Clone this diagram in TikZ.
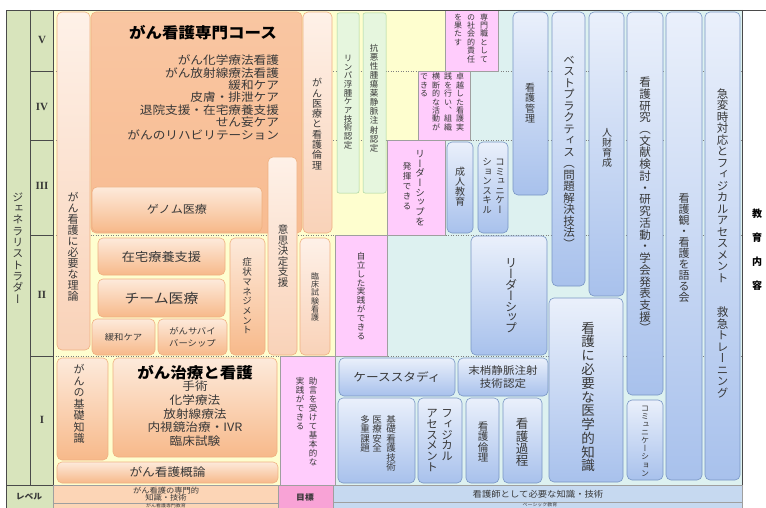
\documentclass[tikz,border=0pt]{standalone}
\usepackage{fontspec}
\setmainfont{Noto Sans CJK JP}[FakeStretch=1.1]
\newfontfamily\vf{Noto Sans CJK JP}[RawFeature=+vert]
\newfontfamily\rmn{Liberation Serif}
\newcommand\fs[1]{\fontsize{#1}{#1}\selectfont}
\ExplSyntaxOn
\NewDocumentCommand\vt{O{1}m}
 {
  \vtop
   {
    \baselineskip=#1em\relax
    \lineskiplimit=-\maxdimen
    \lineskip=0pt
    \tl_map_inline:nn {#2} { \hbox_to_wd:nn {1em} { \hss ##1 \hss } }
   }
 }
\ExplSyntaxOff
\definecolor{lvgreen}{HTML}{D8E4BC}
\definecolor{lgrid}{HTML}{4A4A4A}
\definecolor{cream}{HTML}{FEFECF}
\definecolor{cyanbg}{HTML}{DDF1F0}
\definecolor{pinkbg}{HTML}{FFCCFC}
\definecolor{txt}{HTML}{383838}
\definecolor{otop}{HTML}{FDEADB}
\definecolor{obot}{HTML}{F7B98A}
\definecolor{oedge}{HTML}{EFB080}
\definecolor{ltop}{HTML}{FEF1E8}
\definecolor{lbot}{HTML}{F9D2B8}
\definecolor{bigtop}{HTML}{F9C6A2}
\definecolor{bigbot}{HTML}{F8BC92}
\definecolor{btop}{HTML}{EAF0FB}
\definecolor{bbot}{HTML}{A8C1EC}
\definecolor{bedge}{HTML}{7895C4}
\definecolor{gfill}{HTML}{E6F6DE}
\definecolor{gedge}{HTML}{A6D49C}
\definecolor{rowor}{HTML}{FCD5B6}
\definecolor{rowpk}{HTML}{F8A3D6}
\definecolor{rowbl}{HTML}{C6D9F0}
\tikzset{
 tx/.style={inner sep=0pt,outer sep=0pt,text=txt},
 obox/.style={draw=oedge,line width=0.6pt,rounded corners=5pt,top color=otop,bottom color=obot,inner sep=0pt,outer sep=0pt,text=txt},
 lbox/.style={obox,top color=ltop,bottom color=lbot},
 bigbox/.style={obox,top color=bigtop,bottom color=bigbot},
 bbox/.style={draw=bedge,line width=0.6pt,rounded corners=5pt,top color=btop,bottom color=bbot,inner sep=0pt,outer sep=0pt,text=txt},
 gbox/.style={draw=gedge,line width=0.5pt,rounded corners=2pt,fill=gfill,inner sep=0pt,outer sep=0pt},
 cell/.style={draw=gray!75,line width=0.4pt},
 lvl/.style={dotted,gray,line width=0.5pt},
 grid/.style={draw=lgrid,line width=0.6pt},
}
\newcommand\bx[8][]{\node[#2,minimum width={#6-#4},minimum height={#7-#5},#1] (#3) at ({(#4+#6)/2},{(#5+#7)/2}) {#8};}
\begin{document}
\begin{tikzpicture}[x=1pt,y=-1pt]
\useasboundingbox (0,0) rectangle (766,508);
\fill[white] (0,0) rectangle (766,508);
% backgrounds
\fill[cream] (53,10) rectangle (742,485);
\fill[cyanbg] (498,10) -- (742,10) -- (742,485) -- (335,485) -- (335,356) -- (387,356) -- (387,235) -- (445,235) -- (445,140) -- (470,140) -- (470,71) -- (498,71) -- cycle;
\foreach \yy in {71,140,235,356} \draw[lvl] (53,\yy) -- (742,\yy);
\fill[pinkbg,cell] (280,356) rectangle (335,485);
\fill[pinkbg,cell] (335,235) rectangle (387,356);
\fill[pinkbg,cell] (387,140) rectangle (445,235);
\fill[pinkbg,cell] (418,71) rectangle (470,140);
\fill[pinkbg,cell] (445,10) rectangle (498,71);
% left ladder column
\fill[lvgreen,grid] (6,10) rectangle (53,485);
\draw[grid] (30,10) -- (30,485);
\foreach \yy in {71,140,235,356} \draw[grid] (30,\yy) -- (53,\yy);
\draw[grid] (6,10) -- (766,10);
\draw[grid] (742,10) -- (742,508);
% bottom row
\fill[lvgreen,grid] (6,485) rectangle (53,508);
\fill[rowor,cell] (53,485) rectangle (278,508);
\draw[cell] (53,503) -- (278,503);
\fill[rowpk,cell] (278,485) rectangle (333,508);
\fill[rowbl,cell] (333,485) rectangle (742,508);
\draw[cell] (333,502) -- (742,502);
\node[tx,font=\bfseries\fs{8}] (lvlab) at (29,497) {レベル};
\node[tx,font=\fs{7.5}] (goal1) at (166,490.5) {がん看護の専門的};
\node[tx,font=\fs{7.5}] (goal2) at (166,498) {知識・技術};
\node[tx,font=\fs{4.5}] (goal3) at (166,505.6) {がん看護専門教育};
\node[tx,font=\bfseries\fs{8}] (goallab) at (305,497) {目標};
\node[tx,font=\fs{8.5}] (goal4) at (538,494) {看護師として必要な知識・技術};
\node[tx,font=\fs{4.5}] (goal5) at (540,505.2) {ベーシック教育};
% ladder labels
\node[tx,font=\vf\fs{11}] (ladder) at (18,248) {\vt[1.03]{ジェネラリストラダー}};
\node[tx,font=\rmn\bfseries\fs{11}] (lv5) at (42,40) {V};
\node[tx,font=\rmn\bfseries\fs{11}] (lv4) at (42,107) {IV};
\node[tx,font=\rmn\bfseries\fs{11}] (lv3) at (42,186) {III};
\node[tx,font=\rmn\bfseries\fs{11}] (lv2) at (42,295) {II};
\node[tx,font=\rmn\bfseries\fs{11}] (lv1) at (42,420) {I};
% orange area
\bx{lbox}{theory}{57}{12}{90}{350}{}
\node[tx,font=\vf\fs{11}] (theoryt) at (73,247) {\vt{がん看護に必要な理論}};
\bx{bigbox}{course}{91}{12}{302}{233}{}
\node[tx,text=black,font=\bfseries\fs{15}] (coursetitle) at (203,33) {がん看護専門コース};
\node[tx,anchor=north east,align=right,font={\fontsize{11.5}{12.4}\selectfont}] (courselist) at (279,55) {がん化学療法看護\\がん放射線療法看護\\緩和ケア\\皮膚・排泄ケア\\退院支援・在宅療養支援\\せん妄ケア\\がんのリハビリテーション};
\bx[font=\fs{11}]{obox}{genome}{92}{187}{262}{232}{ゲノム医療}
\bx{lbox}{ethics}{303}{12}{332}{233}{}
\node[tx,font=\vf\fs{10}] (ethicst) at (317,124) {\vt[1.03]{がん医療と看護倫理}};
\bx{lbox}{decision}{268}{157}{297}{355}{}
\node[tx,font=\vf\fs{10.5}] (decisiont) at (283,256) {\vt{意思決定支援}};
\bx[font=\fs{12}]{obox}{zaitaku}{98}{238}{225}{275}{在宅療養支援}
\bx[font=\fs{13.5}]{obox}{team}{98}{279}{225}{317}{チーム医療}
\bx[font=\fs{8.5}]{obox}{kanwa}{92}{319}{155}{355}{緩和ケア}
\bx[align=center,font={\fontsize{8.5}{12}\selectfont}]{obox}{survivor}{158}{319}{227}{355}{がんサバイ\\バーシップ}
\bx{obox}{symptom}{230}{238}{265}{355}{}
\node[tx,font=\vf\fs{9.5}] (symptomt) at (247,296) {\vt[1.02]{症状マネジメント}};
\bx{lbox}{trial}{300}{238}{330}{355}{}
\node[tx,font=\vf\fs{8}] (trialt) at (315,297) {\vt[1.03]{臨床試験看護}};
\bx{obox}{basic}{57}{358}{108}{460}{}
\node[tx,font=\vf\fs{11}] (basict) at (79,404) {\vt[1.05]{がんの基礎知識}};
\bx{obox}{treat}{113}{358}{277}{457}{}
\node[tx,text=black,font=\bfseries\fs{15}] (treattitle) at (195,373) {がん治療と看護};
\node[tx,anchor=north,align=center,font={\fontsize{11.5}{13.7}\selectfont}] (treatlist) at (195,381) {手術\\化学療法\\放射線療法\\内視鏡治療・IVR\\臨床試験};
\bx[font=\fs{11.5}]{obox}{intro}{57}{462}{278}{483}{がん看護概論}
% pink cells text
\node[tx,font=\vf\fs{8.5}] (advice) at (306.5,421.5) {\hbox{\vt[1.05]{実践ができる}\kern4.5pt\vt[1.05]{助言を受けて基本的な}}};
\node[tx,font=\vf\fs{8.5}] (indep) at (361,296) {\vt[1.05]{自立した実践ができる}};
\node[tx,font=\vf\fs{9.5}] (leadA) at (420,188) {\vt[1.02]{リーダーシップを}};
\node[tx,font=\vf\fs{8.5}] (leadB) at (407,186) {\vt[1.2]{発揮できる}};
\node[tx,font=\vf\fs{8}] (excel) at (442,102) {\hbox{\vt[1.05]{できる}\kern4pt\vt[1.05]{横断的な活動が}\kern4pt\vt[1.05]{践を行い、組織}\kern4pt\vt[1.05]{卓越した看護実}}};
\node[tx,font=\vf\fs{8}] (social) at (471,38) {\hbox{\vt[1.05]{を果たす}\kern5pt\vt[1.05]{の社会的責任}\kern5pt\vt[1.05]{専門職として}}};
% green boxes
\bx{gbox}{lymph}{337}{13}{359}{193}{}
\node[tx,font=\vf\fs{8.5}] (lympht) at (348,102) {\vt[1.02]{リンパ浮腫ケア技術認定}};
\bx{gbox}{chemo}{363}{13}{386}{193}{}
\node[tx,font=\vf\fs{8.5}] (chemot) at (374,98) {\vt[1.07]{抗悪性腫瘍薬静脈注射認定}};
% blue boxes
\bx{bbox}{adult}{447}{142}{473}{233}{}
\node[tx,font=\vf\fs{10}] (adultt) at (460,187) {\vt{成人教育}};
\bx{bbox}{commskill}{478}{142}{508}{233}{}
\node[tx,font=\vf\fs{9.5}] (commskillt) at (493.5,186) {\hbox{\vt{ションスキル}\kern3.5pt\vt{コミュニケー}}};
\bx{bbox}{manage}{513}{12}{548}{195}{}
\node[tx,font=\vf\fs{10}] (managet) at (530,103) {\vt[1.05]{看護管理}};
\bx{bbox}{best}{552}{12}{585}{286}{}
\node[tx,font=\vf\fs{11.5}] (bestt) at (569,152) {\vt{ベストプラクティス（問題解決技法）}};
\bx{bbox}{human}{589}{12}{624}{296}{}
\node[tx,font=\vf\fs{10}] (humant) at (607,148) {\vt{人財育成}};
\bx{bbox}{medical}{549}{298}{623}{482}{}
\node[tx,font=\vf\fs{13.5}] (medicalt) at (588,397) {\vt[1.02]{看護に必要な医学的知識}};
\bx{bbox}{research}{627}{12}{663}{395}{}
\node[tx,font=\vf\fs{11.5}] (researcht) at (645,205) {\vt[1.02]{看護研究（文献検討・研究活動・学会発表支援）}};
\bx{bbox}{comm}{627}{400}{663}{480}{}
\node[tx,font=\vf\fs{8}] (commt) at (645,441) {\vt[1.02]{コミュニケーション}};
\bx{bbox}{view}{666}{12}{702}{480}{}
\node[tx,font=\vf\fs{11}] (viewt) at (684,248) {\vt{看護観・看護を語る会}};
\bx{bbox}{emerg}{705}{12}{740}{480}{}
\node[tx,font=\vf\fs{11.5}] (emergt) at (722.5,243) {\vt{急変時対応とフィジカルアセスメント　　救急トレーニング}};
\bx{bbox}{leader}{471}{236}{547}{355}{}
\node[tx,font=\vf\fs{12}] (leadert) at (511,296) {\vt[0.9]{リーダーシップ}};
\bx[font=\fs{11.5}]{bbox}{case}{339}{358}{455}{396}{ケーススタディ}
\bx[align=center,font={\fontsize{10.5}{12.5}\selectfont}]{bbox}{periph}{458}{358}{548}{396}{末梢静脈注射\\技術認定}
\bx{bbox}{skills}{338}{398}{415}{483}{}
\node[tx,font=\vf\fs{9.5}] (skillst) at (378,443.5) {\hbox{\vt{多重課題}\kern2.5pt\vt{医療安全}\kern4.5pt\vt{基礎看護技術}}};
\bx{bbox}{phys}{418}{398}{462}{483}{}
\node[tx,font=\vf\fs{11.5}] (physt) at (439.5,440.5) {\hbox{\vt[0.93]{アセスメント}\kern3.5pt\vt[0.93]{フィジカル}}};
\bx{bbox}{nethics}{466}{398}{499}{483}{}
\node[tx,font=\vf\fs{10.5}] (nethicst) at (483,442) {\vt{看護倫理}};
\bx{bbox}{process}{503}{398}{542}{483}{}
\node[tx,font=\vf\fs{12.5}] (processt) at (522,442.5) {\vt[0.98]{看護過程}};
% right label
\node[tx,text=black,font=\vf\bfseries\fs{10}] (edu) at (757,250) {\vt[2.4]{教育内容}};
\end{tikzpicture}
\end{document}
